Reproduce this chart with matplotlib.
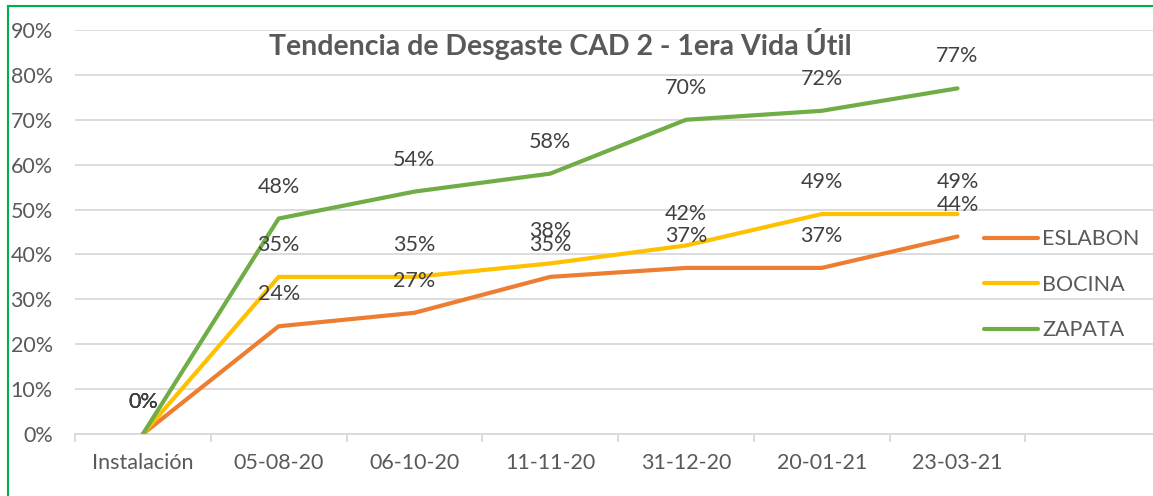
import numpy as np
import matplotlib.pyplot as plt
from matplotlib.lines import Line2D

plt.rcParams['font.family'] = ['Lato', 'DejaVu Sans']

fechas = ["Instalación", "05-08-20", "06-10-20", "11-11-20", "31-12-20", "20-01-21", "23-03-21"]
eslabon = [0.00, 0.24, 0.27, 0.35, 0.37, 0.37, 0.44]
bocina = [0.00, 0.35, 0.35, 0.38, 0.42, 0.49, 0.49]
zapata = [0.00, 0.48, 0.54, 0.58, 0.70, 0.72, 0.77]

series = [("ESLABON", eslabon, "#ED7D31"),
          ("BOCINA", bocina, "#FFC000"),
          ("ZAPATA", zapata, "#70AD47")]

fs = 15.5

fig = plt.figure(figsize=(11.53, 4.96), dpi=100)
ax = fig.add_axes([75 / 1153, 1 - 434 / 496, 1 - 75 / 1153, (434 - 30) / 496])

x = np.arange(len(fechas))
for name, vals, col in series:
    ax.plot(x, vals, color=col, lw=3, solid_capstyle='round', label=name, zorder=3)
    for xi, v in zip(x, vals):
        ax.annotate(f"{v*100:.0f}%", (xi, v), xytext=(0, 23), textcoords='offset points',
                    ha='center', va='center', fontsize=fs, color='#404040', zorder=4)

ax.set_ylim(0, 0.9)
ax.set_xlim(-0.5, 7.44)
ax.set_yticks(np.arange(0, 0.91, 0.1))
ax.set_yticklabels([f"{t}%" for t in range(0, 91, 10)])
ax.yaxis.grid(True, color='#D9D9D9', lw=1.3)
ax.set_axisbelow(True)
ax.tick_params(axis='y', length=0, pad=16, labelsize=fs, labelcolor='#595959')

ax.set_xticks(x)
ax.set_xticklabels(fechas)
ax.set_xticks(np.arange(-0.5, 7, 1), minor=True)
ax.tick_params(axis='x', which='major', length=0, pad=14, labelsize=fs, labelcolor='#595959')
ax.tick_params(axis='x', which='minor', length=6, width=1.3, color='#D9D9D9')

for s in ['top', 'right', 'left']:
    ax.spines[s].set_visible(False)
ax.spines['bottom'].set_color('#D9D9D9')
ax.spines['bottom'].set_linewidth(1.3)

fig.text(560 / 1153, 1 - 44 / 496, "Tendencia de Desgaste CAD 2 - 1era Vida Útil",
         ha='center', va='center', fontsize=20.5, fontweight='bold', color='#595959')

handles = [Line2D([], [], color=c, lw=3, solid_capstyle='round') for _, _, c in series]
fig.legend(handles, [n for n, _, _ in series], loc='upper left',
           bbox_to_anchor=(965 / 1153, 1 - 210 / 496), frameon=False,
           fontsize=fs, labelcolor='#595959', handlelength=2.5, handletextpad=0.2,
           labelspacing=1.18)

# marco verde de la figura
fig.add_artist(Line2D([8 / 1153, 8 / 1153], [0, 1 - 6 / 496], transform=fig.transFigure,
                      color='#00B050', lw=1.5))
fig.add_artist(Line2D([8 / 1153, 1], [1 - 6 / 496, 1 - 6 / 496], transform=fig.transFigure,
                      color='#00B050', lw=1.5))

fig.savefig("out.png", dpi=100)
